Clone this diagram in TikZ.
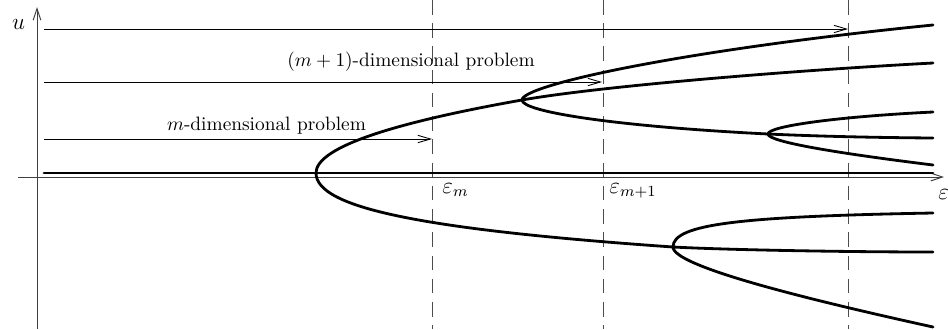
\documentclass[tikz,border=0pt]{standalone}
\usetikzlibrary{arrows.meta}
\begin{document}
\begin{tikzpicture}[x=0.5166pt,y=-0.5166pt,
  axisline/.style={draw=black!75, line width=0.5pt, -{Straight Barb[length=6pt,width=4pt]}},
  harrow/.style={draw=black, line width=0.45pt, -{Straight Barb[length=6.5pt,width=3.8pt]}},
  dashline/.style={draw=black!70, line width=0.5pt, dash pattern=on 7.5pt off 4.5pt},
  branch/.style={draw=black, line width=1.45pt, line cap=round, line join=round},
  lbl/.style={inner sep=0pt, font=\normalsize},
  biglbl/.style={inner sep=0pt, font=\large}]
\useasboundingbox (0,0) rectangle (948,329);

% dashed verticals
\coordinate (d1t) at (432,0);   \coordinate (d1b) at (432,329);
\coordinate (d2t) at (603,0);   \coordinate (d2b) at (603,329);
\coordinate (d3t) at (848,0);   \coordinate (d3b) at (848,329);
\draw[dashline] (d1t) -- (d1b);
\draw[dashline] (d2t) -- (d2b);
\draw[dashline] (d3t) -- (d3b);

% axes
\coordinate (xo) at (18,177);  \coordinate (xe) at (944,177);
\coordinate (yo) at (37,329);  \coordinate (ye) at (37,7);
\draw[axisline] (xo) -- (xe);
\draw[axisline] (yo) -- (ye);
\node[biglbl, anchor=base] (ulab) at (18.5,29) {$u$};
\node[biglbl, anchor=base west] (elab) at (938,199) {$\varepsilon$};

% horizontal arrows
\coordinate (a1s) at (44,29);  \coordinate (a1e) at (848,29);
\coordinate (a2s) at (44,82);  \coordinate (a2e) at (602,82);
\coordinate (a3s) at (44,139); \coordinate (a3e) at (432,139);
\draw[harrow] (a1s) -- (a1e);
\draw[harrow] (a2s) -- (a2e);
\draw[harrow] (a3s) -- (a3e);
\node[lbl, anchor=base] (l2) at (411,66.5) {$(m+1)$-dimensional problem};
\node[lbl, anchor=base] (l1) at (266.5,130) {$m$-dimensional problem};

% epsilon labels
\node[biglbl, anchor=base west] (em) at (442,193) {$\varepsilon_m$};
\node[biglbl, anchor=base west] (em1) at (609,193) {$\varepsilon_{m+1}$};

% bifurcation points and branch ends
\coordinate (t0) at (44,173);  \coordinate (t1) at (933,173);
\coordinate (v0) at (316,173);
\coordinate (v1) at (522,100);
\coordinate (v2) at (768,134);
\coordinate (v3) at (673,247);
\coordinate (e1) at (933,25);
\coordinate (e2) at (933,63);
\coordinate (e3) at (933,112);
\coordinate (e4) at (933,138);
\coordinate (e5) at (933,165);
\coordinate (e6) at (933,213);
\coordinate (e7) at (933,252);
\coordinate (e8) at (933,327);

% trivial branch
\draw[branch] (t0) -- (t1);

% main pitchfork
\draw[branch] (v0) .. controls (316,148.7) and (384.7,124.3) .. (v1)
                   .. controls (600,86.2) and (793,70.4) .. (e2);
\draw[branch] (v0) .. controls (316,208) and (423,229.5) .. (v3)
                   .. controls (730,250) and (850,252) .. (e7);
% second pitchfork
\draw[branch] (v1) .. controls (522,85) and (683,50) .. (e1);
\draw[branch] (v1) .. controls (522,112) and (618,126.5) .. (v2)
                   .. controls (823,136.5) and (880,137.6) .. (e4);
% third pitchfork
\draw[branch] (v2) .. controls (768,126) and (840,116.5) .. (e3);
\draw[branch] (v2) .. controls (768,142) and (840,153.5) .. (e5);
% fourth pitchfork
\draw[branch] (v3) .. controls (673,224) and (740,216.5) .. (e6);
\draw[branch] (v3) .. controls (673,266) and (803,298.4) .. (e8);
\end{tikzpicture}
\end{document}
